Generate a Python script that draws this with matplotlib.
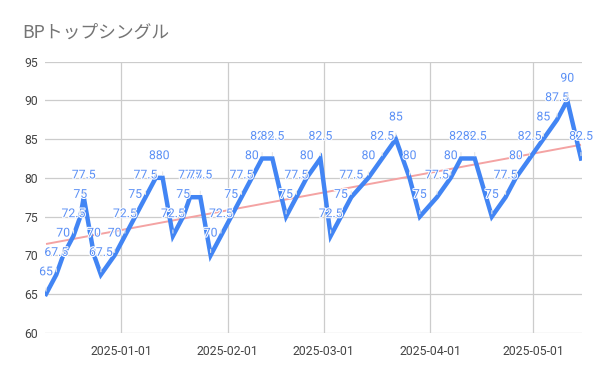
import matplotlib
matplotlib.use("Agg")
import matplotlib.pyplot as plt
import matplotlib.dates as mdates
import matplotlib.patheffects as pe
import numpy as np
import pandas as pd

title = "BPトップシングル"
dates = [
    "2024-12-10", "2024-12-13", "2024-12-15", "2024-12-18", "2024-12-20", "2024-12-21",
    "2024-12-24", "2024-12-26", "2024-12-30", "2025-01-02", "2025-01-05", "2025-01-08",
    "2025-01-11", "2025-01-13", "2025-01-16", "2025-01-19", "2025-01-21", "2025-01-24",
    "2025-01-27", "2025-01-30", "2025-02-02", "2025-02-05", "2025-02-08", "2025-02-11",
    "2025-02-14", "2025-02-18", "2025-02-21", "2025-02-24", "2025-02-28", "2025-03-03",
    "2025-03-06", "2025-03-09", "2025-03-14", "2025-03-18", "2025-03-22", "2025-03-26",
    "2025-03-29", "2025-04-03", "2025-04-07", "2025-04-10", "2025-04-14", "2025-04-19",
    "2025-04-23", "2025-04-26", "2025-04-30", "2025-05-04", "2025-05-08", "2025-05-11",
    "2025-05-15",
]
values = [
    65, 67.5, 70, 72.5, 75, 77.5,
    70, 67.5, 70, 72.5, 75, 77.5,
    80, 80, 72.5, 75, 77.5, 77.5,
    70, 72.5, 75, 77.5, 80, 82.5,
    82.5, 75, 77.5, 80, 82.5, 72.5,
    75, 77.5, 80, 82.5, 85, 80,
    75, 77.5, 80, 82.5, 82.5, 75,
    77.5, 80, 82.5, 85, 87.5, 90,
    82.5,
]
x_ticks = ["2025-01-01", "2025-02-01", "2025-03-01", "2025-04-01", "2025-05-01"]
y_ticks = [60, 65, 70, 75, 80, 85, 90, 95]

dt = pd.to_datetime(dates)
xnum = mdates.date2num(dt)

fig = plt.figure(figsize=(6, 3.71), dpi=100)
ax = fig.add_axes([0.075, 0.1032, 0.8945, 0.7305])

# trendline
coef = np.polyfit(xnum, values, 1)
xl = np.array([xnum[0], xnum[-1]])
ax.plot(xl, np.polyval(coef, xl), color="#f4a3a3", lw=1.4, zorder=2, solid_capstyle="butt")

ax.plot(xnum, values, color="#4285f4", lw=3.2, zorder=3, solid_joinstyle="miter")

fmt = lambda v: (f"{v:g}")
for xv, yv in zip(xnum, values):
    ax.annotate(fmt(yv), xy=(xv, yv), xytext=(0, 16), textcoords="offset points",
                ha="center", va="center", fontsize=8.8, color="#5a8ff5", family="Roboto",
                zorder=4,
                path_effects=[pe.withStroke(linewidth=1.5, foreground="white")],
                arrowprops=dict(arrowstyle="-", color="#e6e6e6", lw=0.8, shrinkA=5, shrinkB=2))

ax.set_xlim(xnum[0] - 0.3, xnum[-1] + 0.2)
ax.set_ylim(60, 95)
ax.set_yticks(y_ticks)
ax.set_xticks(mdates.date2num(pd.to_datetime(x_ticks)))
ax.xaxis.set_major_formatter(mdates.DateFormatter("%Y-%m-%d"))
ax.grid(True, color="#cccccc", lw=0.9)
ax.set_axisbelow(True)
for s in ax.spines.values():
    s.set_visible(False)
ax.tick_params(length=0, labelsize=8.8, colors="#444444", pad=5)
ax.tick_params(axis="x", pad=9)
for lab in ax.get_xticklabels() + ax.get_yticklabels():
    lab.set_family("Roboto")

fig.text(0.037, 0.913, title, fontsize=12.8, color="#757575",
         family=["Noto Sans CJK JP", "DejaVu Sans"], va="center", ha="left")

fig.savefig("out.png", dpi=100)
